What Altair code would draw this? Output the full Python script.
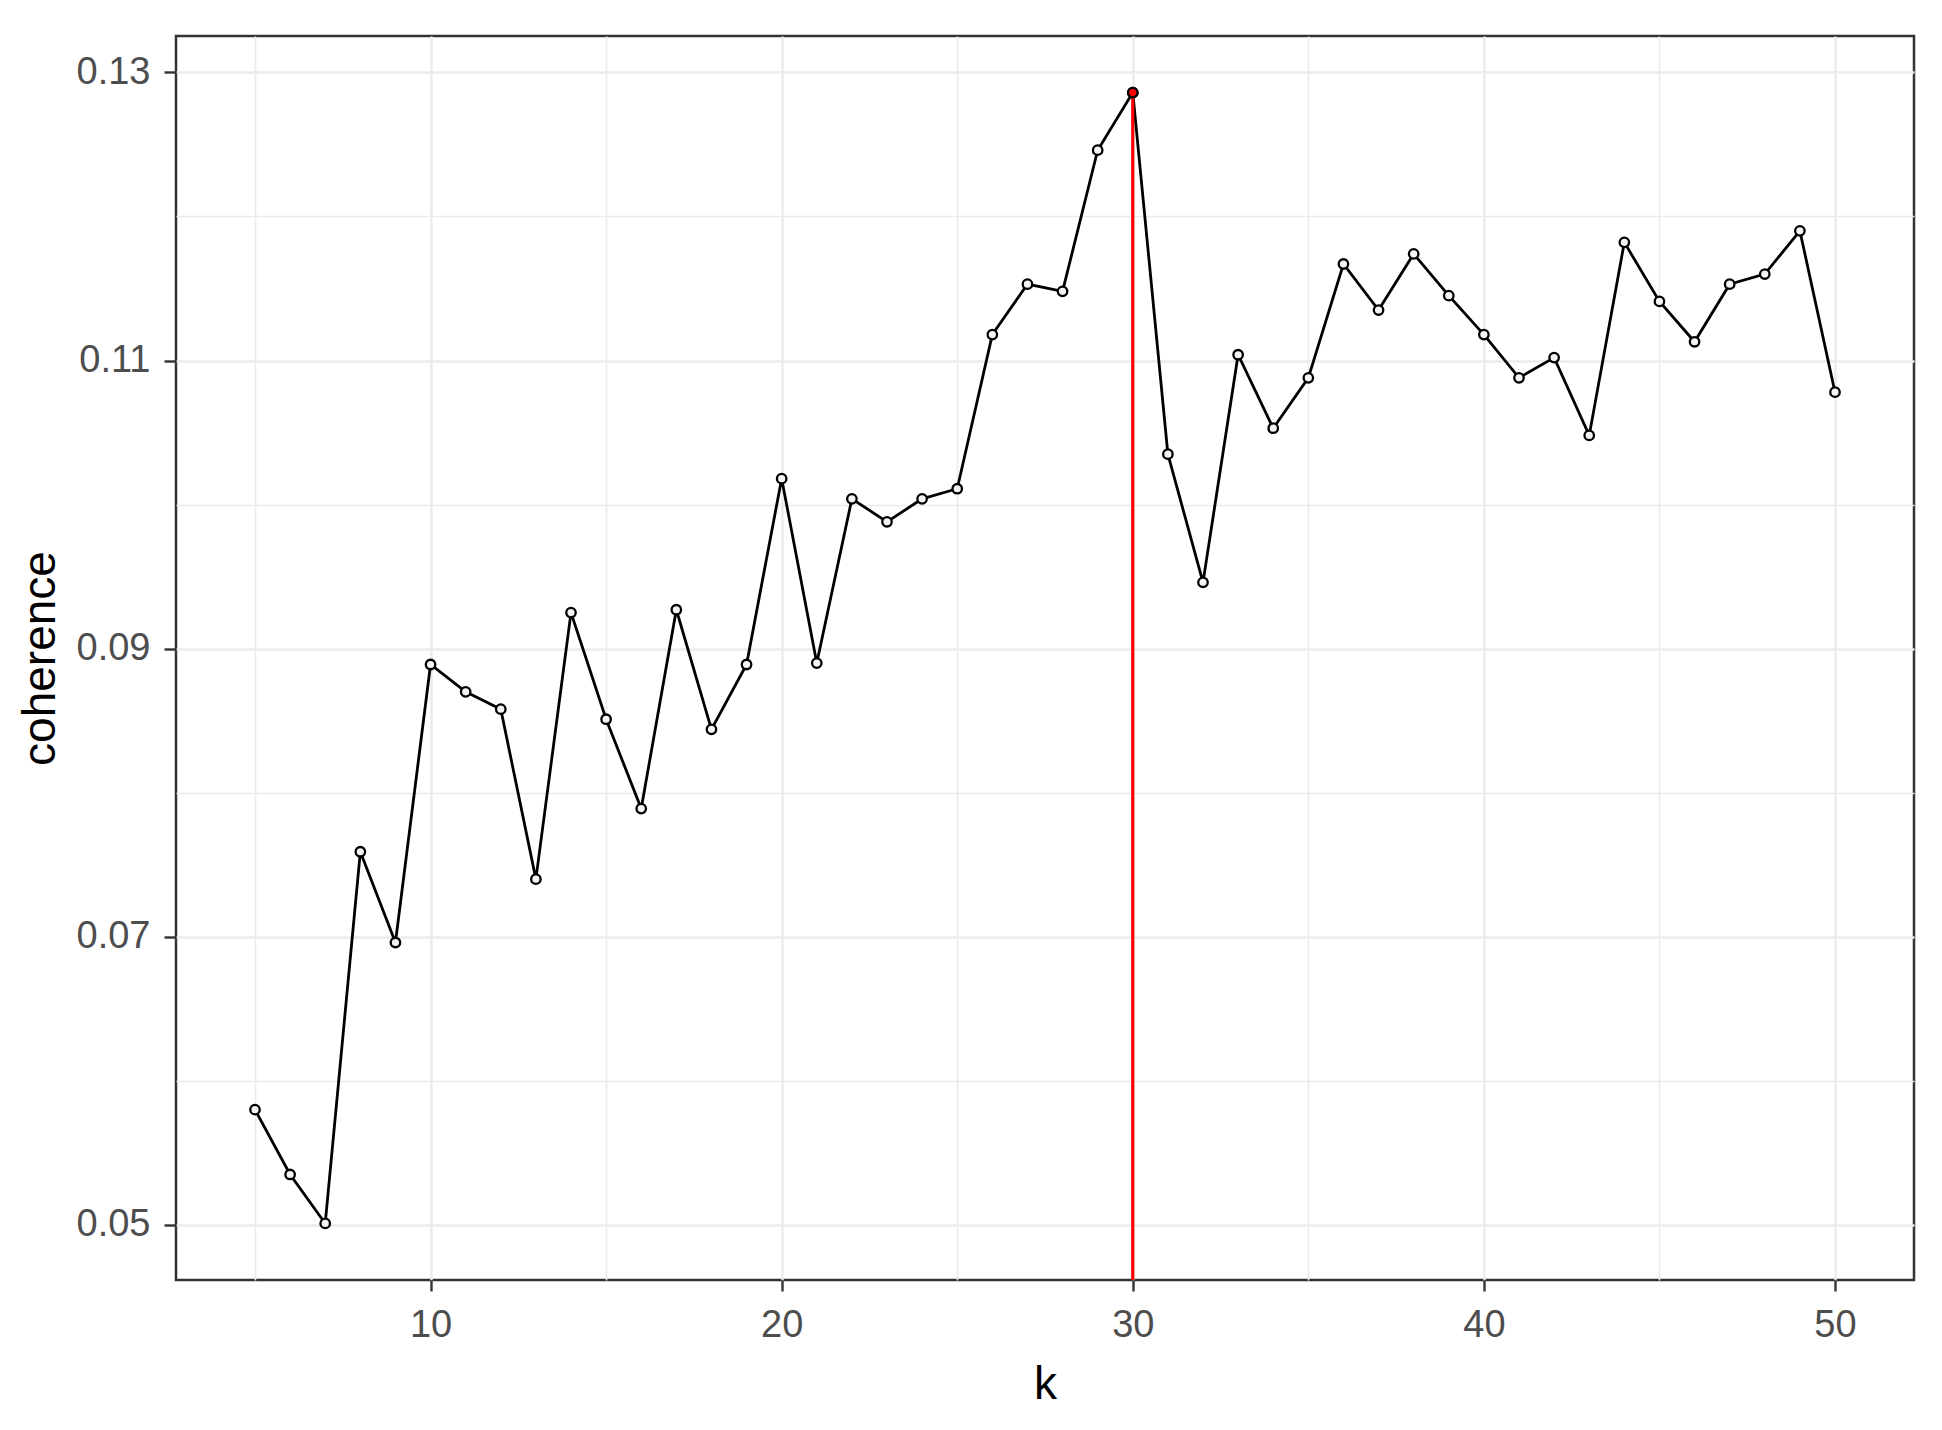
import altair as alt
import pandas as pd

# ---- data ----
k_values = list(range(5, 51))
coherence_values = [
    0.0580, 0.0535, 0.0501, 0.0759, 0.0696, 0.0889, 0.0870, 0.0858, 0.0740, 0.0925,
    0.0851, 0.0789, 0.0927, 0.0844, 0.0889, 0.1018, 0.0890, 0.1004, 0.0988, 0.1004,
    0.1011, 0.1118, 0.1153, 0.1148, 0.1246, 0.1286, 0.1035, 0.0946, 0.1104, 0.1053,
    0.1088, 0.1167, 0.1135, 0.1174, 0.1145, 0.1118, 0.1088, 0.1102, 0.1048, 0.1182,
    0.1141, 0.1113, 0.1153, 0.1160, 0.1190, 0.1078,
]
x_tick_values = [5, 10, 15, 20, 25, 30, 35, 40, 45, 50]
y_tick_values = [0.05, 0.06, 0.07, 0.08, 0.09, 0.10, 0.11, 0.12, 0.13]
best_k = 30

df = pd.DataFrame({"k": k_values, "coherence": coherence_values})

ymin, ymax = min(coherence_values), max(coherence_values)
ypad = (ymax - ymin) * 0.05
y_domain = [ymin - ypad, ymax + ypad]
xpad = (max(k_values) - min(k_values)) * 0.05
x_domain = [min(k_values) - xpad, max(k_values) + xpad]

best = df[df["k"] == best_k].copy()
best["base"] = y_domain[0]

FONT = "Liberation Sans"
Y_MINOR = "round(datum.value * 100) % 2 == 0"
X_MINOR = "datum.value % 10 != 0"

x_axis = alt.Axis(
    values=x_tick_values,
    title="k",
    labelExpr=f"{X_MINOR} ? '' : datum.label",
    labelOverlap=False,
    tickOpacity={"condition": {"test": X_MINOR, "value": 0}, "value": 1},
    gridWidth={"condition": {"test": X_MINOR, "value": 1.6}, "value": 2.4},
    tickSize=11,
    labelPadding=15,
    titleY=104,
    titleBaseline="middle",
)
y_axis = alt.Axis(
    values=y_tick_values,
    title="coherence",
    format=".2f",
    labelExpr=f"{Y_MINOR} ? '' : datum.label",
    labelOverlap=False,
    tickOpacity={"condition": {"test": Y_MINOR, "value": 0}, "value": 1},
    gridWidth={"condition": {"test": Y_MINOR, "value": 1.6}, "value": 2.4},
    tickSize=12,
    labelPadding=14,
    titleX=-136,
    titleY=622,
    titleAngle=270,
    titleAlign="center",
    titleBaseline="middle",
)

x_enc = alt.X("k:Q", scale=alt.Scale(domain=x_domain, nice=False, zero=False), axis=x_axis)
y_enc = alt.Y("coherence:Q", scale=alt.Scale(domain=y_domain, nice=False, zero=False), axis=y_axis)

line = alt.Chart(df).mark_line(color="black", strokeWidth=2.8).encode(x=x_enc, y=y_enc)
points = alt.Chart(df).mark_circle(
    fill="#f4f4f4", stroke="black", strokeWidth=2.3, size=90, opacity=1
).encode(x="k:Q", y="coherence:Q")
rule = alt.Chart(best).mark_rule(color="#ff0000", strokeWidth=3.2).encode(
    x="k:Q", y="coherence:Q", y2="base:Q"
)
best_point = alt.Chart(best).mark_circle(
    fill="#ff0000", stroke="black", strokeWidth=2.3, size=90, opacity=1
).encode(x="k:Q", y="coherence:Q")

chart = (
    alt.layer(line, points, rule, best_point)
    .properties(
        width=1738,
        height=1244,
        autosize=alt.AutoSizeParams(type="none"),
        padding={"left": 168, "top": 28, "right": 20, "bottom": 150},
        background="white",
    )
    .configure_view(stroke="#333333", strokeWidth=2.5)
    .configure_axis(
        domain=False,
        gridColor="#ebebeb",
        tickColor="#333333",
        tickWidth=2.4,
        labelColor="#4d4d4d",
        labelFont=FONT,
        labelFontSize=38,
        titleFont=FONT,
        titleFontSize=46,
        titleFontWeight="normal",
        titleColor="black",
    )
)

chart.save("out.html", embed_options={"renderer": "svg", "actions": False})
